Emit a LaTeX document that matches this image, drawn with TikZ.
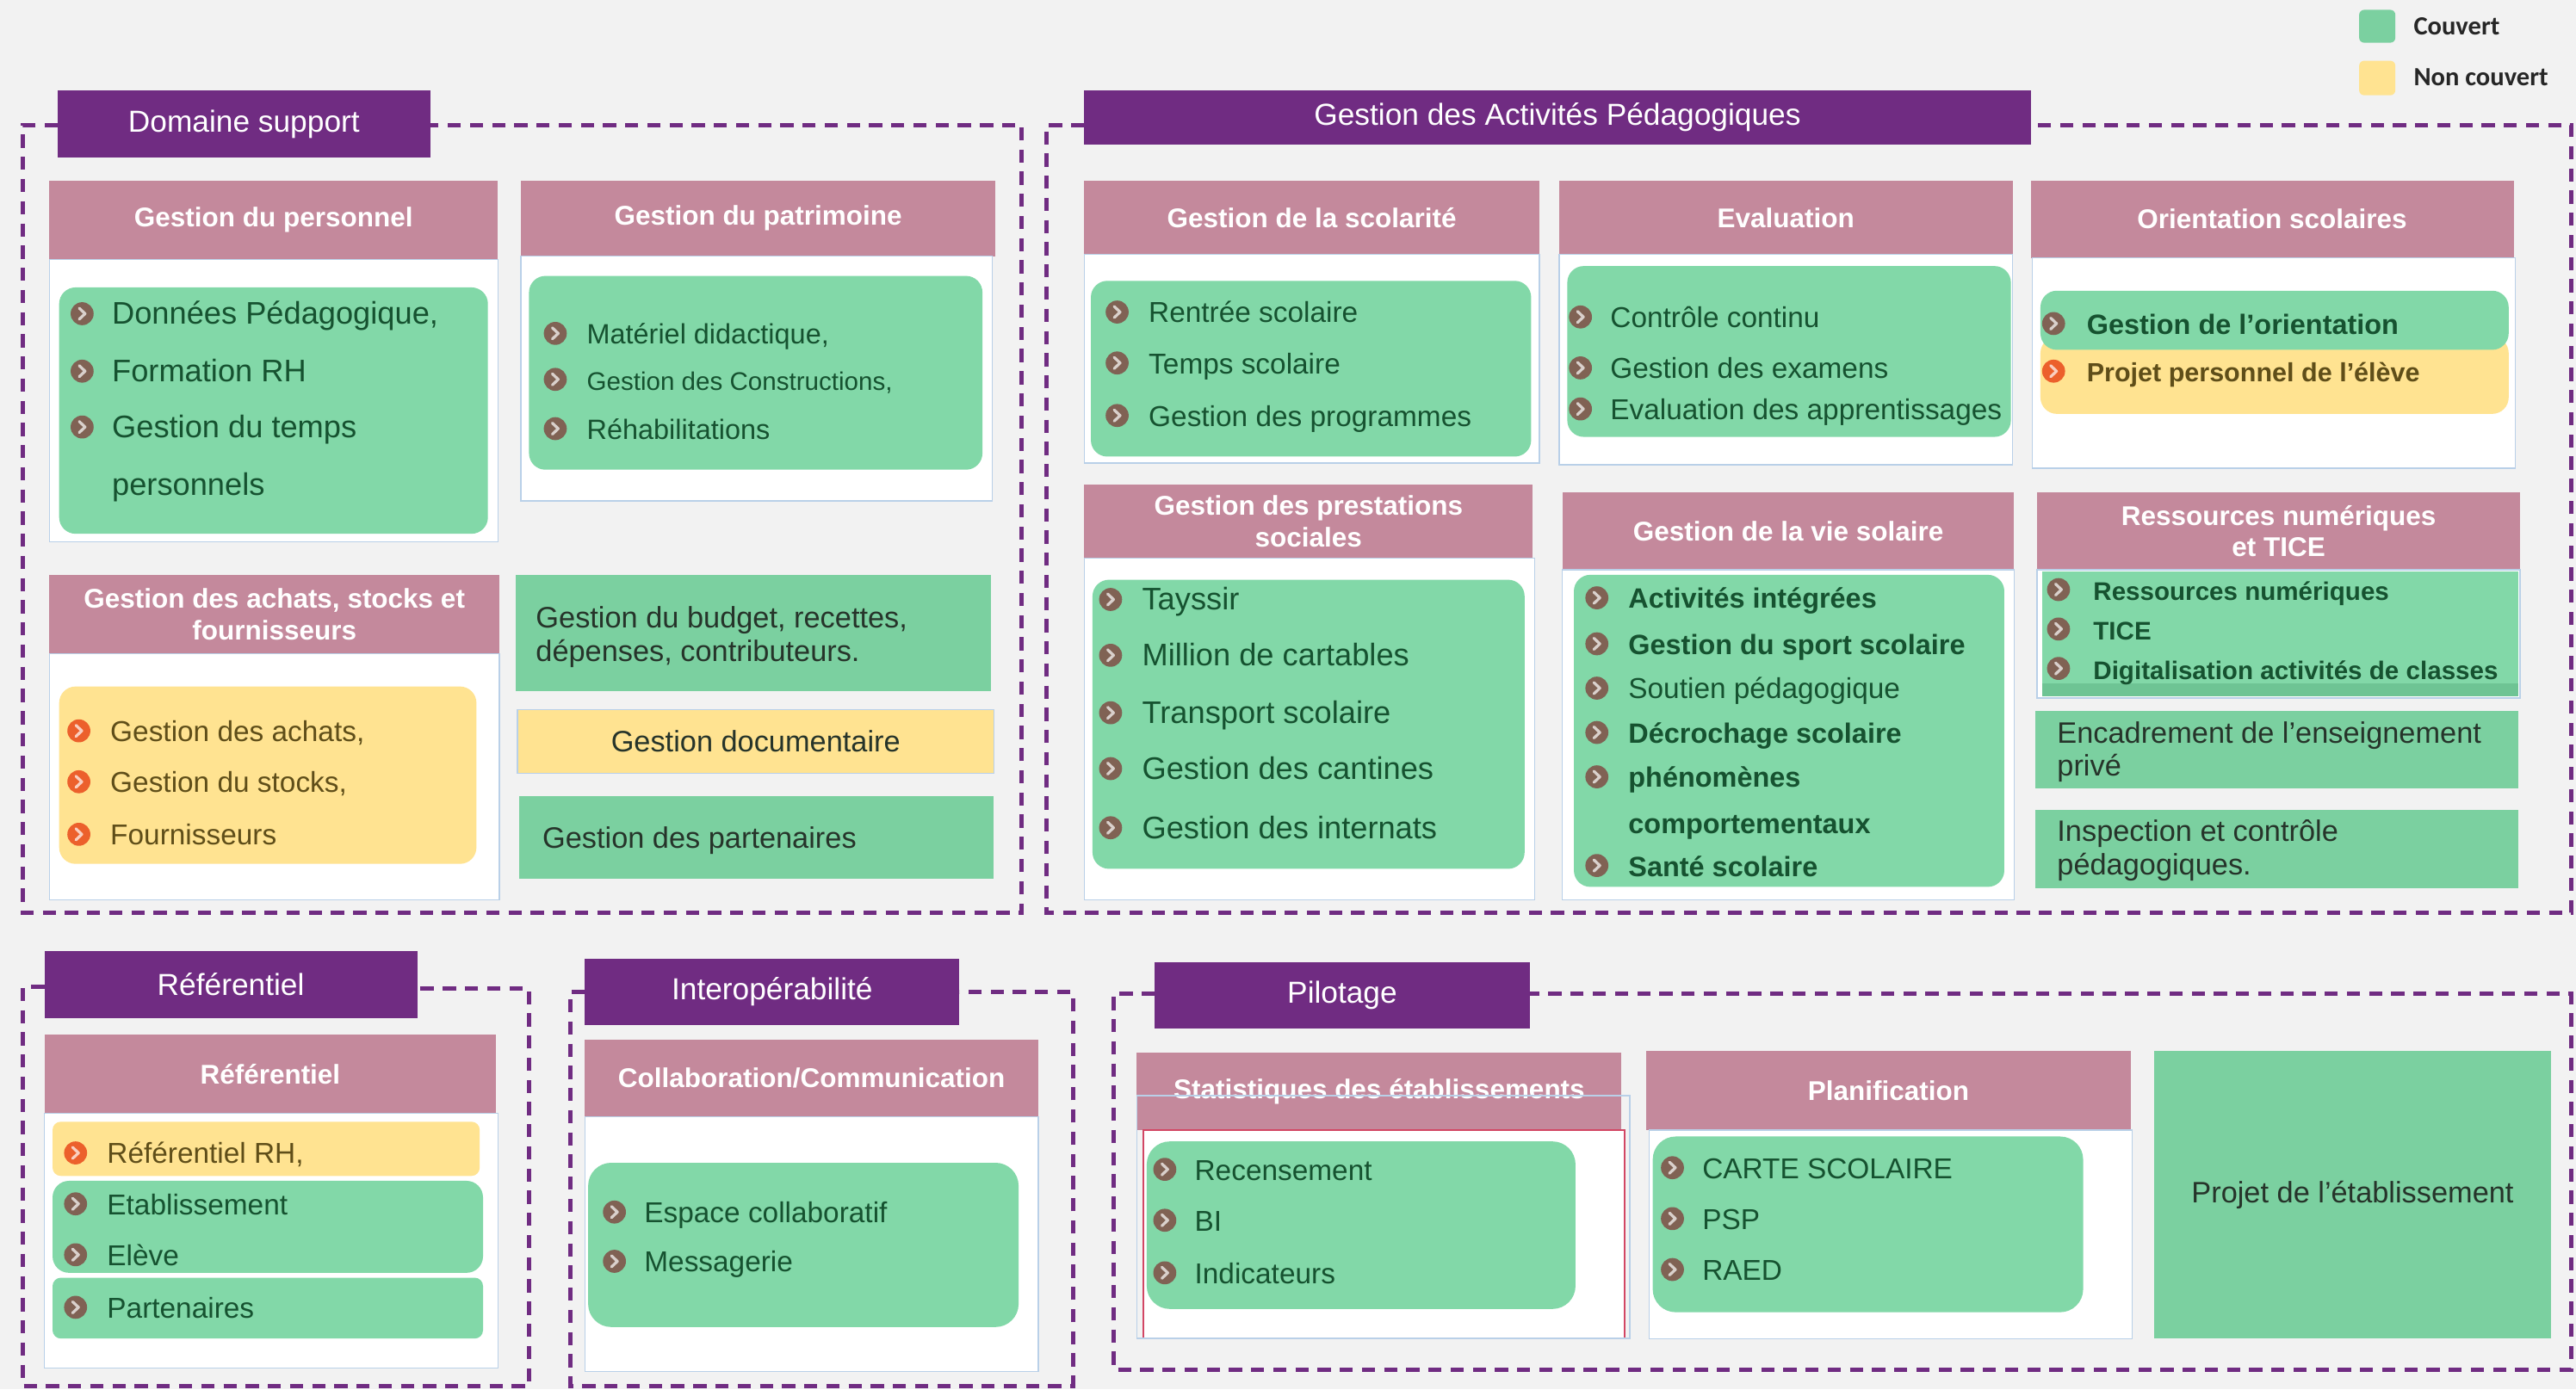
\documentclass[tikz,border=0pt]{standalone}
\usepackage{fontspec}
\setmainfont{Liberation Sans}
\newfontfamily\legfont{Carlito}
\definecolor{bgc}{RGB}{242,242,242}
\definecolor{purp}{RGB}{112,44,130}
\definecolor{hdrc}{RGB}{196,137,156}
\definecolor{grnc}{RGB}{130,216,168}
\definecolor{grnb}{RGB}{123,208,160}
\definecolor{grnd}{RGB}{110,196,148}
\definecolor{yelc}{RGB}{255,227,145}
\definecolor{bluel}{RGB}{185,208,232}
\definecolor{itg}{RGB}{22,82,48}
\definecolor{ity}{RGB}{95,78,25}
\definecolor{txd}{RGB}{38,52,42}
\definecolor{bulbr}{RGB}{128,98,84}
\definecolor{bulor}{RGB}{236,96,44}
\definecolor{redl}{RGB}{210,70,100}
\newcommand\fs[2]{\fontsize{#1}{#2}\selectfont}
\tikzset{
  pics/bul/.style={code={\fill[#1] (0,0) circle (7);
    \draw[white, opacity=0.7, line width=1.7pt, line cap=round, line join=round] (-1.8,-3.4) -- (1.8,0) -- (-1.8,3.4);}},
  hdr/.style={fill=hdrc, text=white, font=\bfseries\fs{16.5}{19}, align=center},
  ttl/.style={fill=purp, text=white, font=\fs{18.5}{22}},
  bodyw/.style={fill=white, draw=bluel, line width=0.7pt},
  grn/.style={fill=grnc, rounded corners=10pt},
  yel/.style={fill=yelc, rounded corners=10pt},
  grnsq/.style={fill=grnb},
  frame/.style={draw=purp, line width=2.6pt, dash pattern=on 8pt off 5.5pt},
  itx/.style={anchor=west, inner sep=0pt, text height=13pt, text depth=0pt, text=itg, font=\fs{17.5}{20}},
  itb/.style={font=\bfseries\fs{17}{20}},
  itl/.style={font=\fs{19}{22}},
  ity/.style={text=ity},
  txt/.style={anchor=west, inner sep=0pt, text height=13pt, text depth=0pt, text=txd, font=\fs{18}{21}},
  leg/.style={anchor=west, inner sep=0pt, text=black!85, font=\legfont\bfseries\fs{16}{19}}
}
% box: name, x1, y1, x2, y2, style, text
\newcommand\bx[7]{\node[#6, anchor=north west, minimum width={(#4-#2)*1pt}, minimum height={(#5-#3)*1pt}, inner sep=0pt, outer sep=0pt] (#1) at (#2,#3) {#7};}
% item: name, bullet x, text x, y, bullet colour, style, text
\newcommand\itm[7]{\pic at (#2,#4) {bul=#5}; \node[itx,#6] (#1) at (#3,#4) {#7};}
\begin{document}
\begin{tikzpicture}[x=1pt,y=-1pt]
\fill[bgc] (0,0) rectangle (1568,846);
\useasboundingbox (0,0) rectangle (1568,846);

% legend
\bx{lgG}{1436}{6}{1458}{26}{fill=grnb, rounded corners=3pt}{}
\node[leg] (lgGt) at (1469,16) {Couvert};
\bx{lgY}{1436}{37}{1458}{58}{fill=yelc, rounded corners=3pt}{}
\node[leg] (lgYt) at (1469,47) {Non couvert};

% dashed frames
\draw[frame] (35,76) -- (14,76) -- (14,556) -- (622,556) -- (622,76) -- (262,76);
\draw[frame] (660,76) -- (637,76) -- (637,556) -- (1565,556) -- (1565,76) -- (1236,76);
\draw[frame] (27,601) -- (14,601) -- (14,844) -- (322,844) -- (322,602) -- (254,602);
\draw[frame] (356,604) -- (347,604) -- (347,844) -- (653,844) -- (653,604) -- (584,604);
\draw[frame] (703,605) -- (678,605) -- (678,834) -- (1565,834) -- (1565,605) -- (931,605);

% ===== Domaine support =====
\bx{dst}{35}{55}{262}{96}{ttl}{Domaine support}

\bx{hpers}{30}{110}{303}{158}{hdr}{Gestion du personnel}
\bx{bpers}{30}{158}{303}{330}{bodyw}{}
\bx{gpers}{36}{175}{297}{325}{grn}{}
\itm{pers1}{50}{68}{191}{bulbr}{itl}{Données Pédagogique,}
\itm{pers2}{50}{68}{226}{bulbr}{itl}{Formation RH}
\itm{pers3}{50}{68}{260}{bulbr}{itl}{Gestion du temps}
\node[itx,itl] (pers4) at (68,295) {personnels};

\bx{hpat}{317}{110}{606}{156}{hdr}{Gestion du patrimoine}
\bx{bpat}{317}{156}{604}{305}{bodyw}{}
\bx{gpat}{322}{168}{598}{286}{grn}{}
\itm{pat1}{338}{357}{203}{bulbr}{font=\fs{17}{20}}{Matériel didactique,}
\itm{pat2}{338}{357}{231}{bulbr}{font=\fs{15.5}{18}}{Gestion des Constructions,}
\itm{pat3}{338}{357}{261}{bulbr}{font=\fs{17}{20}}{Réhabilitations}

\bx{hach}{30}{350}{304}{398}{hdr}{Gestion des achats, stocks et\\fournisseurs}
\bx{bach}{30}{398}{304}{548}{bodyw}{}
\bx{yach}{36}{418}{290}{526}{yel}{}
\itm{ach1}{48}{67}{445}{bulor}{ity}{Gestion des achats,}
\itm{ach2}{48}{67}{476}{bulor}{ity}{Gestion du stocks,}
\itm{ach3}{48}{67}{508}{bulor}{ity}{Fournisseurs}

\bx{bud}{314}{350}{603}{421}{grnsq}{}
\node[txt] (bud1) at (326,376) {Gestion du budget, recettes,};
\node[txt] (bud2) at (326,396) {dépenses, contributeurs.};
\bx{doc}{315}{432}{605}{471}{fill=yelc, draw=bluel, line width=0.7pt, text=txd, font=\fs{18}{21}}{Gestion documentaire}
\bx{part}{316}{485}{605}{535}{grnsq}{}
\node[txt] (part1) at (330,510) {Gestion des partenaires};

% ===== Gestion des Activités Pédagogiques =====
\bx{gapt}{660}{55}{1236}{88}{ttl}{Gestion des Activités Pédagogiques}

\bx{hsco}{660}{110}{937}{155}{hdr}{Gestion de la scolarité}
\bx{bsco}{660}{155}{937}{282}{bodyw}{}
\bx{gsco}{664}{171}{932}{278}{grn}{}
\itm{sco1}{680}{699}{190}{bulbr}{}{Rentrée scolaire}
\itm{sco2}{680}{699}{221}{bulbr}{}{Temps scolaire}
\itm{sco3}{680}{699}{253}{bulbr}{}{Gestion des programmes}

\bx{heva}{949}{110}{1225}{155}{hdr}{Evaluation}
\bx{beva}{949}{155}{1225}{283}{bodyw}{}
\bx{geva}{954}{162}{1224}{266}{grn}{}
\itm{eva1}{962}{980}{193}{bulbr}{}{Contrôle continu}
\itm{eva2}{962}{980}{224}{bulbr}{}{Gestion des examens}
\itm{eva3}{962}{980}{249}{bulbr}{}{Evaluation des apprentissages}

\bx{hori}{1236}{110}{1530}{157}{hdr}{Orientation scolaires}
\bx{bori}{1237}{157}{1531}{285}{bodyw}{}
\bx{yori}{1242}{205}{1527}{252}{yel}{}
\bx{gori}{1242}{177}{1527}{213}{grn}{}
\itm{ori1}{1250}{1270}{197}{bulbr}{itb}{Gestion de l’orientation}
\itm{ori2}{1250}{1270}{226}{bulor}{ity,font=\bfseries\fs{16}{19}}{Projet personnel de l’élève}

\bx{hpre}{660}{295}{933}{340}{hdr}{Gestion des prestations\\sociales}
\bx{bpre}{660}{340}{934}{548}{bodyw}{}
\bx{gpre}{665}{353}{928}{529}{grn}{}
\itm{pre1}{676}{695}{365}{bulbr}{itl}{Tayssir}
\itm{pre2}{676}{695}{399}{bulbr}{itl}{Million de cartables}
\itm{pre3}{676}{695}{434}{bulbr}{itl}{Transport scolaire}
\itm{pre4}{676}{695}{468}{bulbr}{itl}{Gestion des cantines}
\itm{pre5}{676}{695}{504}{bulbr}{itl}{Gestion des internats}

\bx{hvie}{951}{300}{1226}{347}{hdr}{Gestion de la vie solaire}
\bx{bvie}{951}{347}{1226}{548}{bodyw}{}
\bx{gvie}{958}{350}{1220}{540}{grn}{}
\itm{vie1}{972}{991}{364}{bulbr}{itb}{Activités intégrées}
\itm{vie2}{972}{991}{392}{bulbr}{itb}{Gestion du sport scolaire}
\itm{vie3}{972}{991}{419}{bulbr}{}{Soutien pédagogique}
\itm{vie4}{972}{991}{446}{bulbr}{itb}{Décrochage scolaire}
\itm{vie5}{972}{991}{473}{bulbr}{itb}{phénomènes}
\node[itx,itb] (vie6) at (991,501) {comportementaux};
\itm{vie7}{972}{991}{527}{bulbr}{itb}{Santé scolaire}

\bx{hres}{1240}{300}{1534}{347}{hdr}{Ressources numériques\\et TICE}
\bx{bres}{1240}{347}{1534}{425}{bodyw}{}
\bx{gres}{1243}{348}{1533}{424}{fill=grnc}{}
\bx{gresb}{1243}{416}{1533}{424}{fill=grnd}{}
\itm{res1}{1253}{1274}{359}{bulbr}{font=\bfseries\fs{15.5}{18}}{Ressources numériques}
\itm{res2}{1253}{1274}{383}{bulbr}{font=\bfseries\fs{15.5}{18}}{TICE}
\itm{res3}{1253}{1274}{407}{bulbr}{font=\bfseries\fs{15.5}{18}}{Digitalisation activités de classes}

\bx{enc}{1239}{433}{1533}{480}{grnsq}{}
\node[txt] (enc1) at (1252,446) {Encadrement de l’enseignement};
\node[txt] (enc2) at (1252,466) {privé};
\bx{insp}{1239}{493}{1533}{541}{grnsq}{}
\node[txt] (insp1) at (1252,506) {Inspection et contrôle};
\node[txt] (insp2) at (1252,526) {pédagogiques.};

% ===== Référentiel =====
\bx{reft}{27}{579}{254}{620}{ttl}{Référentiel}
\bx{href}{27}{630}{302}{678}{hdr}{Référentiel}
\bx{bref}{27}{678}{303}{833}{bodyw}{}
\bx{yref}{32}{683}{292}{716}{fill=yelc, rounded corners=5pt}{}
\bx{gref1}{32}{719}{294}{775}{grn}{}
\bx{gref2}{32}{778}{294}{815}{fill=grnc, rounded corners=5pt}{}
\itm{ref1}{46}{65}{702}{bulor}{ity}{Référentiel RH,}
\itm{ref2}{46}{65}{733}{bulbr}{}{Etablissement}
\itm{ref3}{46}{65}{764}{bulbr}{}{Elève}
\itm{ref4}{46}{65}{796}{bulbr}{}{Partenaires}

% ===== Interopérabilité =====
\bx{intt}{356}{584}{584}{624}{ttl}{Interopérabilité}
\bx{hcol}{356}{633}{632}{680}{hdr}{Collaboration/Communication}
\bx{bcol}{356}{680}{632}{835}{bodyw}{}
\bx{gcol}{358}{708}{620}{808}{fill=grnc, rounded corners=14pt}{}
\itm{col1}{374}{392}{738}{bulbr}{}{Espace collaboratif}
\itm{col2}{374}{392}{768}{bulbr}{}{Messagerie}

% ===== Pilotage =====
\bx{pilt}{703}{586}{931}{626}{ttl}{Pilotage}
\bx{hsta}{692}{641}{987}{688}{hdr}{Statistiques des établissements}
\bx{bsta}{696}{688}{989}{815}{fill=white, draw=redl, line width=0.8pt}{}
\draw[bluel, line width=0.8pt] (692,667) rectangle (992,815);
\bx{gsta}{698}{695}{959}{797}{fill=grnc, rounded corners=14pt}{}
\itm{sta1}{709}{727}{712}{bulbr}{}{Recensement}
\itm{sta2}{709}{727}{743}{bulbr}{}{BI}
\itm{sta3}{709}{727}{775}{bulbr}{}{Indicateurs}

\bx{hpla}{1002}{640}{1297}{688}{hdr}{Planification}
\bx{bpla}{1004}{688}{1298}{815}{bodyw}{}
\bx{gpla}{1006}{692}{1268}{799}{fill=grnc, rounded corners=14pt}{}
\itm{pla1}{1018}{1036}{711}{bulbr}{}{CARTE SCOLAIRE}
\itm{pla2}{1018}{1036}{742}{bulbr}{}{PSP}
\itm{pla3}{1018}{1036}{773}{bulbr}{}{RAED}

\bx{proj}{1311}{640}{1553}{815}{grnsq, text=txd, font=\fs{18}{21}}{Projet de l’établissement}
\end{tikzpicture}
\end{document}
